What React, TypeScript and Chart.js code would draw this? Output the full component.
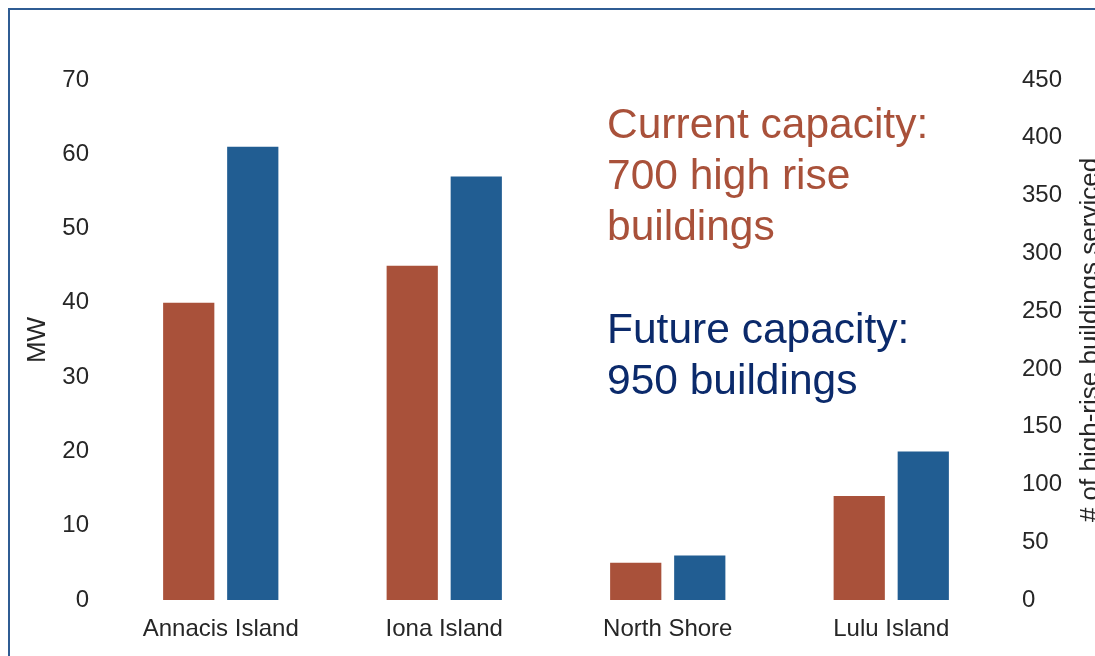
import React, { useEffect, useRef } from "react";
import { Chart, registerables } from "chart.js";

Chart.register(...registerables);

const categories = ["Annacis Island", "Iona Island", "North Shore", "Lulu Island"];
const currentMW = [40, 45, 5, 14];
const futureMW = [61, 57, 6, 20];
const leftTicks = { min: 0, max: 70, step: 10 };
const rightTicks = { min: 0, max: 450, step: 50 };
const leftTitle = "MW";
const rightTitle = "# of high-rise buildings serviced";
const currentNote = ["Current capacity:", "700 high rise", "buildings"];
const futureNote = ["Future capacity:", "950 buildings"];

const FONT = "'Liberation Sans', Arial, sans-serif";
const RED = "#A9513A";
const BLUE = "#215D92";
const TEXT = "#262626";

const rightTitlePlugin = {
  id: "rightTitle",
  afterDraw(chart: any) {
    const { ctx, chartArea } = chart;
    ctx.save();
    ctx.font = `26px ${FONT}`;
    ctx.fillStyle = TEXT;
    ctx.textAlign = "center";
    ctx.textBaseline = "middle";
    ctx.translate(1091, (chartArea.top + chartArea.bottom) / 2);
    ctx.rotate(-Math.PI / 2);
    ctx.fillText(rightTitle, 0, 0);
    ctx.restore();
  },
};

export default function App() {
  const ref = useRef<HTMLCanvasElement>(null);
  useEffect(() => {
    if (!ref.current) return;
    const chart = new Chart(ref.current, {
      type: "bar",
      data: {
        labels: categories,
        datasets: [
          { label: "Current", data: currentMW, backgroundColor: RED, yAxisID: "y" },
          { label: "Future", data: futureMW, backgroundColor: BLUE, yAxisID: "y" },
        ],
      },
      options: {
        animation: false,
        responsive: false,
        maintainAspectRatio: false,
        categoryPercentage: 0.573,
        barPercentage: 0.8,
        layout: { padding: { top: 80, left: 0, right: 0, bottom: 0 } },
        plugins: { legend: { display: false }, tooltip: { enabled: false } },
        scales: {
          x: {
            grid: { display: false, drawTicks: false },
            border: { display: false },
            ticks: { color: TEXT, font: { family: FONT, size: 24 }, padding: 15, maxRotation: 0 },
            afterFit: (s: any) => { s.height = 56; },
          },
          y: {
            position: "left",
            min: leftTicks.min,
            max: leftTicks.max,
            grid: { display: false, drawTicks: false },
            border: { display: false },
            ticks: { stepSize: leftTicks.step, color: TEXT, font: { family: FONT, size: 24 }, padding: 20 },
            title: { display: true, text: leftTitle, color: TEXT, font: { family: FONT, size: 26 }, padding: { top: 22, bottom: 0 } },
            afterFit: (s: any) => { s.width = 109; },
          },
          y1: {
            position: "right",
            min: rightTicks.min,
            max: rightTicks.max,
            grid: { display: false, drawTicks: false },
            border: { display: false },
            ticks: { stepSize: rightTicks.step, color: TEXT, font: { family: FONT, size: 24 }, padding: 19 },
            afterFit: (s: any) => { s.width = 92; },
          },
        },
      },
      plugins: [rightTitlePlugin],
    });
    return () => chart.destroy();
  }, []);

  const noteStyle: React.CSSProperties = {
    position: "absolute",
    left: 607,
    fontFamily: FONT,
    fontSize: 42.5,
    lineHeight: "51px",
    whiteSpace: "nowrap",
  };

  return (
    <div style={{ position: "fixed", left: 0, top: 0, width: 1095, height: 656, overflow: "hidden", background: "#fff" }}>
      <canvas ref={ref} width={1095} height={656} style={{ position: "absolute", left: 0, top: 0, width: 1095, height: 656 }} />
      <div style={{ position: "absolute", left: 8, top: 8, width: 1200, height: 800, border: "2px solid #2F5C93", boxSizing: "border-box", pointerEvents: "none" }} />
      <div style={{ ...noteStyle, top: 98, color: RED }}>
        {currentNote.map((l, i) => <div key={i}>{l}</div>)}
      </div>
      <div style={{ ...noteStyle, top: 303, color: "#0B2A6B" }}>
        {futureNote.map((l, i) => <div key={i}>{l}</div>)}
      </div>
    </div>
  );
}
